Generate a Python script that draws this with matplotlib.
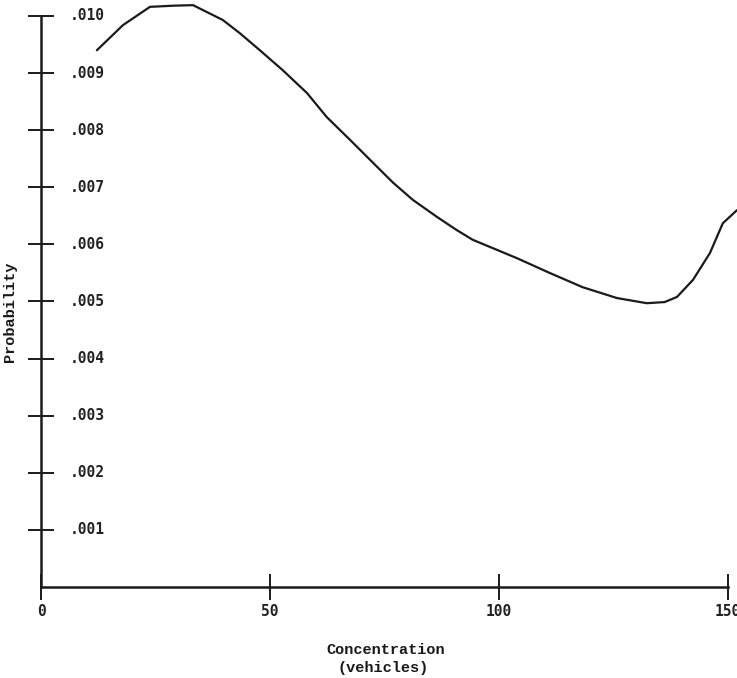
import matplotlib
matplotlib.use("Agg")
import matplotlib.pyplot as plt
from matplotlib.transforms import offset_copy

# Data
concentration = [12.2, 17.9, 23.8, 28.8, 33.2, 39.7, 43.4, 47.8, 52.8, 58.1,
                 62.4, 67.5, 72.5, 76.9, 81.2, 86.5, 90.8, 94.3, 103.9, 111.1,
                 118.3, 125.8, 132.3, 136.2, 138.9, 142.4, 146.1, 148.9, 152.0]
probability = [0.00940, 0.00984, 0.01016, 0.01018, 0.01019, 0.00993, 0.00970,
               0.00940, 0.00905, 0.00865, 0.00823, 0.00783, 0.00743, 0.00708,
               0.00678, 0.00648, 0.00625, 0.00608, 0.00576, 0.00550, 0.00525,
               0.00506, 0.00497, 0.00499, 0.00508, 0.00538, 0.00585, 0.00637,
               0.00660]
x_ticks = [0, 50, 100, 150]
x_tick_labels = ["0", "50", "100", "150"]
y_ticks = [0.001, 0.002, 0.003, 0.004, 0.005, 0.006, 0.007, 0.008, 0.009, 0.010]
y_tick_labels = [".001", ".002", ".003", ".004", ".005", ".006", ".007", ".008", ".009", ".010"]

W, H = 737, 678
fig = plt.figure(figsize=(W / 100, H / 100), dpi=100)
fig.patch.set_facecolor("white")

left = 41 / W
bottom = (H - 587) / H
ax = fig.add_axes([left, bottom, 1 - left, 1 - bottom])
ax.set_xlim(0, 152.0)
ax.set_ylim(0, 0.01028)

ink = "#1a1a1a"
ax.plot(concentration, probability, color=ink, lw=1.6, solid_joinstyle="round",
        solid_capstyle="round")

for s in ["top", "right"]:
    ax.spines[s].set_visible(False)
ax.spines["left"].set_bounds(0, 0.010)
ax.spines["bottom"].set_bounds(0, 150)
for s in ["left", "bottom"]:
    ax.spines[s].set_linewidth(1.8)
    ax.spines[s].set_color(ink)

tick_font = dict(family="DejaVu Sans Mono", fontsize=10.5, fontweight="bold", color="#222222")

ax.set_xticks(x_ticks)
ax.set_xticklabels(x_tick_labels, **tick_font)
ax.tick_params(axis="x", direction="inout", length=19, width=1.4, color=ink, pad=3)

ax.set_yticks(y_ticks)
ax.set_yticklabels([])
ax.tick_params(axis="y", direction="inout", length=19, width=1.4, color=ink,
               labelleft=False)

trans = offset_copy(ax.get_yaxis_transform(), fig=fig, x=21, y=0, units="points")
for yv, lab in zip(y_ticks, y_tick_labels):
    ax.text(0, yv, lab, transform=trans, ha="left", va="center", **tick_font)

label_font = dict(family="Liberation Mono", fontweight="bold", fontsize=11, color=ink)
fig.text(10 / W, 1 - 312 / H, "Probability", rotation=90, ha="center", va="center",
         **label_font)
fig.text(386 / W, 1 - 650 / H, "Concentration", ha="center", va="center", **label_font)
fig.text(383 / W, 1 - 668 / H, "(vehicles)", ha="center", va="center", **label_font)

fig.savefig("out.png", dpi=100)
